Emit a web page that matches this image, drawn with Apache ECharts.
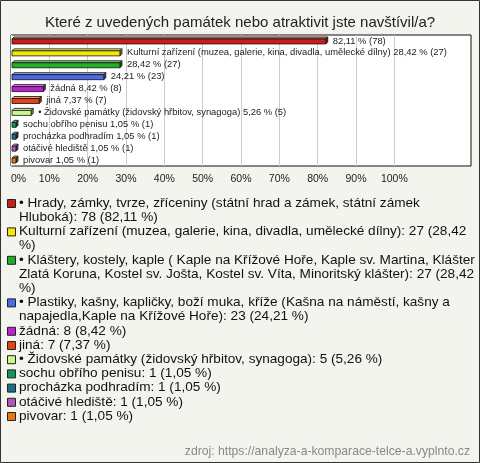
<!DOCTYPE html>
<html>
<head>
<meta charset="utf-8">
<script src="https://cdn.jsdelivr.net/npm/echarts@6/dist/echarts.min.js"></script>
<style>
  html, body { margin: 0; padding: 0; background: #f4f4ee; }
  #chart { width: 480px; height: 463px; }
</style>
</head>
<body>
<div id="chart"></div>
<script>
// data
const names = [
  '• Hrady, zámky, tvrze, zříceniny (státní hrad a zámek, státní zámek Hluboká)',
  'Kulturní zařízení (muzea, galerie, kina, divadla, umělecké dílny)',
  '• Kláštery, kostely, kaple ( Kaple na Křížové Hoře, Kaple sv. Martina, Klášter Zlatá Koruna, Kostel sv. Jošta, Kostel sv. Víta, Minoritský klášter)',
  '• Plastiky, kašny, kapličky, boží muka, kříže (Kašna na náměstí, kašny a napajedla,Kaple na Křížové Hoře)',
  'žádná',
  'jiná',
  '• Židovské památky (židovský hřbitov, synagoga)',
  'sochu obřího penisu',
  'procházka podhradím',
  'otáčivé hlediště',
  'pivovar'
]
const counts = [78, 27, 27, 23, 8, 7, 5, 1, 1, 1, 1]
const percents = [82.11, 28.42, 28.42, 24.21, 8.42, 7.37, 5.26, 1.05, 1.05, 1.05, 1.05]
// whether the bar label repeats the answer text
const nameOnBar = [false, true, false, false, true, true, true, true, true, true, true]
const colors = ['#c82014', '#f8e800', '#22b022', '#4a6ae8', '#c020d4', '#e04414', '#c8f888', '#129958', '#1a6e88', '#b058b8', '#e87810']
const xTicks = [0, 10, 20, 30, 40, 50, 60, 70, 80, 90, 100]

const fmtPct = (v) => v.toFixed(2).replace('.', ',')
const barLabels = percents.map((p, i) => (nameOnBar[i] ? names[i] + ' ' : '') + fmtPct(p) + ' % (' + counts[i] + ')')
const legendTexts = names.map((n, i) => n + ': ' + counts[i] + ' (' + fmtPct(percents[i]) + ' %)')

const FONT = '"Liberation Sans", Arial, sans-serif'
const legendFont = '13.6px ' + FONT

// simple word wrap, the legend lines break like in the original
const ctx = document.createElement('canvas').getContext('2d')
ctx.font = legendFont
function wrap(text, width) {
  const words = text.split(' ')
  const lines = []
  let line = ''
  words.forEach((w) => {
    const test = line ? line + ' ' + w : w
    if (ctx.measureText(test).width > width && line) {
      lines.push(line)
      line = w
    } else {
      line = test
    }
  })
  lines.push(line)
  return lines
}

function shade(hex, f) {
  const n = parseInt(hex.slice(1), 16)
  let r = (n >> 16) & 255, g = (n >> 8) & 255, b = n & 255
  if (f > 0) {
    r += (255 - r) * f; g += (255 - g) * f; b += (255 - b) * f
  } else {
    r *= 1 + f; g *= 1 + f; b *= 1 + f
  }
  return 'rgb(' + Math.round(r) + ',' + Math.round(g) + ',' + Math.round(b) + ')'
}

// legend built from the arrays
const legendX = 19
const legendTop = 196
const lineH = 14.2
const legendGraphics = []
let y = legendTop
legendTexts.forEach((t, i) => {
  const lines = wrap(t, 458)
  legendGraphics.push({
    type: 'rect',
    shape: { x: 7.5, y: y + 3.5, width: 8, height: 8 },
    style: { fill: colors[i], stroke: '#222', lineWidth: 1 }
  })
  legendGraphics.push({
    type: 'text',
    x: legendX,
    y: y,
    style: { text: lines.join('\n'), font: legendFont, fill: '#111', lineHeight: lineH }
  })
  y += lines.length * lineH
})

const chart = echarts.init(document.getElementById('chart'))
const option = {
  backgroundColor: '#f4f4ee',
  animation: false,
  title: {
    text: 'Které z uvedených památek nebo atraktivit jste navštívil/a?',
    left: 'center',
    top: 10,
    textStyle: { fontSize: 15, fontWeight: 'normal', color: '#222', fontFamily: FONT }
  },
  grid: {
    left: 11,
    right: 9,
    top: 35,
    height: 131,
    show: true,
    backgroundColor: '#fff',
    borderColor: '#111',
    borderWidth: 1
  },
  xAxis: {
    type: 'value',
    min: 0,
    max: 120,
    interval: 10,
    axisLine: { show: false },
    axisTick: { show: false },
    axisLabel: {
      color: '#222',
      fontSize: 10.5,
      fontFamily: FONT,
      margin: 8,
      alignMinLabel: 'left',
      formatter: (v) => (xTicks.includes(v) ? v + '%' : '')
    },
    splitLine: {
      lineStyle: {
        color: ['#fff', '#ccc', '#ccc', '#ccc', '#ccc', '#ccc', '#ccc', '#ccc', '#ccc', '#ccc', '#ccc', 'rgba(0,0,0,0)', 'rgba(0,0,0,0)']
      }
    }
  },
  yAxis: {
    type: 'category',
    inverse: true,
    data: names,
    show: false
  },
  series: [
    {
      type: 'custom',
      data: percents.map((p, i) => [p, i]),
      encode: { x: 0, y: 1 },
      renderItem: (params, api) => {
        const i = api.value(1)
        const start = api.coord([0, i])
        const end = api.coord([api.value(0), i])
        const x0 = start[0] + 1
        const x1 = Math.max(end[0], x0 + 4)
        const h = 5
        const d = 2
        const top = start[1] - 2
        const c = colors[params.dataIndex]
        const stroke = { stroke: '#111', lineWidth: 0.8 }
        return {
          type: 'group',
          children: [
            {
              type: 'polygon',
              shape: { points: [[x0, top], [x0 + d, top - d], [x1 + d, top - d], [x1, top]] },
              style: Object.assign({ fill: shade(c, 0.45) }, stroke)
            },
            {
              type: 'polygon',
              shape: { points: [[x1, top], [x1 + d, top - d], [x1 + d, top - d + h], [x1, top + h]] },
              style: Object.assign({ fill: shade(c, -0.35) }, stroke)
            },
            {
              type: 'rect',
              shape: { x: x0, y: top, width: x1 - x0, height: h },
              style: Object.assign({ fill: c }, stroke)
            },
            {
              type: 'text',
              x: x1 + d + 5,
              y: start[1],
              style: {
                text: barLabels[params.dataIndex],
                font: '9.4px ' + FONT,
                fill: '#222',
                verticalAlign: 'middle'
              }
            }
          ]
        }
      }
    }
  ],
  graphic: legendGraphics.concat([
    {
      type: 'text',
      right: 10,
      top: 446,
      style: {
        text: 'zdroj: https://analyza-a-komparace-telce-a.vyplnto.cz',
        font: '12.2px ' + FONT,
        fill: '#888'
      }
    },
    {
      type: 'rect',
      shape: { x: 0.5, y: 0.5, width: 479, height: 462 },
      style: { fill: 'none', stroke: '#333', lineWidth: 1 },
      silent: true
    }
  ])
}
chart.setOption(option)
</script>
</body>
</html>
